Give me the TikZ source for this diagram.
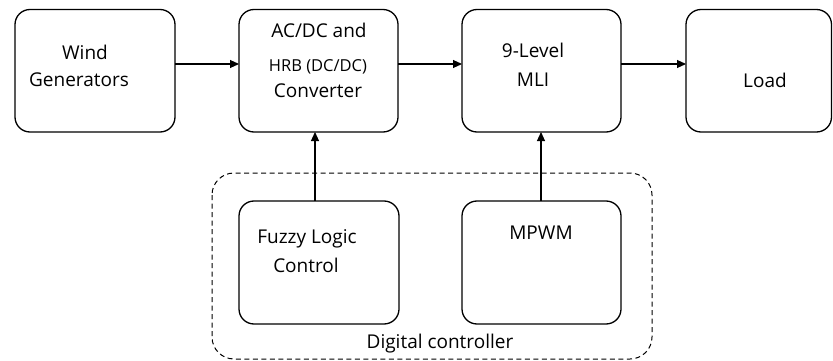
\documentclass[tikz,border=0pt]{standalone}
\usepackage{fontspec}
\setmainfont{Open Sans}
\usetikzlibrary{arrows.meta}
\begin{document}
\begin{tikzpicture}[x=1pt,y=-1pt,
  blk/.style={draw,line width=1.3pt,rounded corners=15pt},
  arr/.style={line width=1.1pt,-{Triangle[length=9pt,width=8pt]}},
  txt/.style={font=\fontsize{19}{22}\selectfont,inner sep=0pt}]
\useasboundingbox (0,0) rectangle (833,361);
% blocks
\draw[blk] (15,9.5) rectangle (175,132);
\draw[blk] (239,9.5) rectangle (398,132);
\draw[blk] (462,9.5) rectangle (621,132);
\draw[blk] (686,9.5) rectangle (831.5,132);
\draw[blk] (239,201) rectangle (399,324);
\draw[blk] (462,201) rectangle (621,324);
\draw[line width=1pt,dash pattern=on 5pt off 3.5pt,rounded corners=22pt] (212,173) rectangle (652,359);
% named anchors
\coordinate (wgR) at (175,64);
\coordinate (acL) at (239,64);
\coordinate (acR) at (398,64);
\coordinate (mlL) at (462,64);
\coordinate (mlR) at (621,64);
\coordinate (ldL) at (686,64);
\coordinate (acB) at (315,132);
\coordinate (mlB) at (541,132);
\coordinate (fzT) at (315,201);
\coordinate (mpT) at (541,201);
\draw[arr] (wgR) -- (acL);
\draw[arr] (acR) -- (mlL);
\draw[arr] (mlR) -- (ldL);
\draw[arr] (fzT) -- (acB);
\draw[arr] (mpT) -- (mlB);
% texts
\node[txt] (t1) at (85,52) {Wind};
\node[txt] (t2) at (79,80) {Generators};
\node[txt] (t3) at (319,30) {AC/DC and};
\node[txt,font=\fontsize{16.5}{19}\selectfont] (t4) at (318,67) {HRB (DC/DC)};
\node[txt] (t5) at (318,91) {Converter};
\node[txt] (t6) at (533,50) {9-Level};
\node[txt] (t7) at (533,80) {MLI};
\node[txt] (t8) at (765,80) {Load};
\node[txt] (t9) at (307,239) {Fuzzy Logic};
\node[txt] (t10) at (306,265) {Control};
\node[txt] (t11) at (541,233) {MPWM};
\node[txt] (t12) at (440,344) {Digital controller};
\end{tikzpicture}
\end{document}
